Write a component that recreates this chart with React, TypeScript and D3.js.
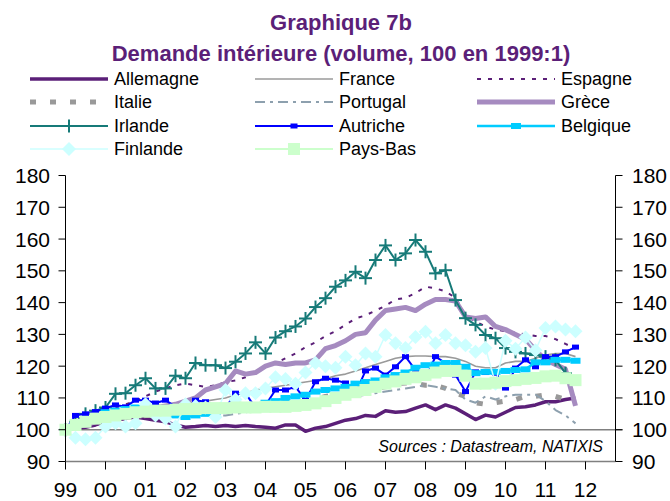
import React from "react";
import * as d3 from "d3";

const W = 670;
const H = 501;

const yearTicks = ["99", "00", "01", "02", "03", "04", "05", "06", "07", "08", "09", "10", "11", "12"];
const yTicks = [90, 100, 110, 120, 130, 140, 150, 160, 170, 180];

const allemagne = [100, 100.5, 100.8, 101.5, 102.5, 103, 103.5, 104, 103.5, 103, 102.5, 101.5, 100.8, 101, 101.3, 101, 101.3, 101, 101.3, 101, 100.8, 100.5, 101.5, 101.5, 99.5, 100.5, 101, 102, 103, 103.5, 104.5, 104.2, 106, 105.5, 105.7, 106.8, 107.8, 106.3, 107.8, 106.8, 105, 103.2, 104.6, 104, 105.5, 107, 107.2, 107.8, 108.8, 108.8, 109.5, 110];
const france = [100, 101, 102, 103, 104, 105, 106, 106.5, 107, 107.5, 107.5, 108, 108.5, 108.5, 109, 109.5, 110, 111, 111.5, 112.5, 113, 113.5, 114, 114.5, 115, 115.5, 116, 117, 117.5, 118.5, 119.5, 120.5, 121.5, 122.5, 123, 123.2, 123.2, 123, 123, 122.5, 121.5, 120, 119.5, 119.5, 121, 121.5, 121.5, 122.5, 123.5, 124, 124, 123];
const espagne = [100, 101.5, 102.5, 104.5, 106, 107, 108, 109, 110.5, 112, 113, 114, 114.5, 114, 113.5, 114, 115, 115.5, 116.5, 118, 120, 121, 122.5, 124, 126, 127.5, 129.5, 131, 133, 135, 136, 137.5, 139, 141, 141.5, 143, 145, 144.5, 143.5, 141.5, 136, 134, 132.5, 131.5, 131, 130.5, 130, 129.5, 129.5, 128.5, 127, 125.5];
const italie = [100, 101, 102, 102.5, 103, 103.5, 104, 104, 104.5, 104.5, 104.5, 104.8, 105, 105.5, 105.5, 106, 106.5, 107, 107, 107.5, 108, 108.5, 108.5, 109, 109, 109.5, 110.5, 111, 111.5, 112, 112.5, 113, 113.5, 114.5, 114.7, 114.5, 114, 114, 113, 111.5, 110.5, 108.5, 108, 108.5, 109, 109.5, 110.5, 110.5, 111, 110.5, 109.5, 108.5];
const portugal = [100, 101.5, 102.5, 103.5, 104.5, 105, 105.5, 106, 106, 106, 105.5, 105.5, 105.5, 105.5, 105, 104.5, 104.5, 105, 105.5, 106, 106.5, 107, 107.5, 108, 108.5, 109, 109.5, 109.5, 110, 110.5, 111, 111.5, 112, 112.5, 113, 113.5, 114, 113.5, 113, 112.5, 109.5, 108.5, 110.5, 109.5, 110.5, 111, 111, 111, 109, 106.2, 104.5, 102];
const grece = [100, 101, 101.5, 102.5, 103.5, 104, 104.5, 105.5, 106, 107, 107.5, 108, 109, 110, 112.5, 113.5, 114.5, 118.5, 117.5, 118, 120, 121, 120.5, 121, 121, 122, 125.5, 126.5, 128, 130, 130.5, 134.5, 137.5, 138, 138.5, 137.5, 139.5, 141, 141, 140.5, 135.5, 135, 135.5, 132.5, 131.5, 130, 128.5, 125, 122, 120.5, 119, 107.5];
const irlande = [100, 102.5, 105, 106, 107, 111.3, 111.5, 114, 116.2, 113, 113, 117, 116.2, 121, 120.3, 120.3, 119.4, 121.4, 124, 127.5, 124, 129, 131, 132.5, 135, 138.6, 141.4, 145, 147, 149.7, 147.7, 153.4, 158, 153.4, 155.5, 159.7, 156, 149.2, 150.2, 140.8, 135.1, 133, 129.8, 128.8, 125.7, 124.5, 124, 123.5, 123, 122, 117.8];
const autriche = [100, 104.5, 105, 105.7, 106.8, 107.8, 107.2, 109.3, 109.3, 108.4, 109.3, 107.2, 104.1, 109.3, 108.8, 107.2, 106.8, 111.5, 111.5, 106.8, 107.8, 112.5, 112.5, 113.5, 109.3, 115.1, 116.2, 115.6, 114.7, 111.5, 118.5, 119.4, 117.2, 119.8, 123, 118.8, 116.2, 123, 121, 117.2, 112, 118.2, 118, 117.8, 113.1, 119.4, 122, 119.8, 123, 123, 124.5, 126];
const belgique = [100, 101.5, 103, 104, 105.5, 106, 106.5, 107, 107, 106.5, 105.5, 104.5, 104, 104.5, 105, 105.5, 106, 106.5, 107, 107.5, 108.5, 109, 110, 110.5, 111, 112, 112.5, 113, 113.5, 114.5, 115, 115.5, 116.5, 117.2, 118, 119.5, 120.3, 120.5, 121, 121, 119.8, 117.8, 118.2, 118.2, 118.5, 118.8, 119, 121.2, 121.2, 122, 122, 121.7];
const finlande = [100, 97.5, 97, 97.5, 101, 102, 101, 102, 108, 104.5, 103.5, 101, 108, 107.5, 107, 104, 112.5, 109.5, 111.5, 111.5, 113, 116.5, 116, 114.5, 118, 121, 120, 119.5, 123, 120.3, 124, 123, 129.8, 127.2, 125.7, 129.2, 130.8, 127.2, 129.8, 127.2, 126.6, 124.5, 125.7, 114.5, 128, 125.5, 129, 125, 132, 132.5, 131.5, 131];
const paysBas = [100, 101.5, 102.5, 103.5, 104, 104.5, 105, 105.5, 105.7, 106, 106, 106.3, 106.5, 106.5, 106.8, 106.8, 106.8, 107, 107, 107, 107.2, 107.2, 107.2, 107.5, 107.8, 108.3, 109, 110, 111, 111.8, 112.5, 113.5, 114.5, 115.2, 116, 116.5, 117.2, 118, 118.5, 118.5, 117, 114.5, 114.5, 114.8, 115.3, 115.6, 116, 116.3, 116.8, 117, 116.2, 115.6];

type Marker = "none" | "plus" | "rect" | "diamond" | "square";
interface Series {
  name: string;
  values: number[];
  color: string;
  width: number;
  dash?: string;
  marker: Marker;
  mw?: number;
  mh?: number;
}

const series: Series[] = [
  { name: "Allemagne", values: allemagne, color: "#5B1F78", width: 3.5, marker: "none" },
  { name: "France", values: france, color: "#9A9A9A", width: 1.6, marker: "none" },
  { name: "Espagne", values: espagne, color: "#5B1F78", width: 2, dash: "4,7", marker: "none" },
  { name: "Italie", values: italie, color: "#999999", width: 5, dash: "6,14", marker: "none" },
  { name: "Portugal", values: portugal, color: "#8DA0AE", width: 2, dash: "10,5,3,5", marker: "none" },
  { name: "Grèce", values: grece, color: "#A68BC0", width: 5, marker: "none" },
  { name: "Irlande", values: irlande, color: "#167A78", width: 2, marker: "plus", mw: 13, mh: 13 },
  { name: "Autriche", values: autriche, color: "#0000FF", width: 2, marker: "rect", mw: 7, mh: 5 },
  { name: "Belgique", values: belgique, color: "#00CCFF", width: 2.5, marker: "rect", mw: 10, mh: 6 },
  { name: "Finlande", values: finlande, color: "#CCFFFF", width: 1.5, marker: "diamond", mw: 14, mh: 14 },
  { name: "Pays-Bas", values: paysBas, color: "#CCFFCC", width: 2, marker: "square", mw: 12, mh: 12 },
];

function MarkerShape({ s, cx, cy }: { s: Series; cx: number; cy: number }) {
  const mw = s.mw || 0;
  const mh = s.mh || 0;
  if (s.marker === "plus") {
    return (
      <g stroke={s.color} strokeWidth={2}>
        <line x1={cx - mw / 2} x2={cx + mw / 2} y1={cy} y2={cy} />
        <line x1={cx} x2={cx} y1={cy - mh / 2} y2={cy + mh / 2} />
      </g>
    );
  }
  if (s.marker === "rect" || s.marker === "square") {
    return <rect x={cx - mw / 2} y={cy - mh / 2} width={mw} height={mh} fill={s.color} />;
  }
  if (s.marker === "diamond") {
    return (
      <path
        d={`M${cx},${cy - mh / 2}L${cx + mw / 2},${cy}L${cx},${cy + mh / 2}L${cx - mw / 2},${cy}Z`}
        fill={s.color}
      />
    );
  }
  return null;
}

export default function App() {
  const left = 65.5;
  const right = 615.5;
  const x = d3.scaleLinear().domain([0, 13.75]).range([left, right]);
  const y = d3.scaleLinear().domain([90, 180]).range([461.5, 175.5]);
  const tQ = (i: number) => x(i / 4);

  const line = d3
    .line<number>()
    .x((_, i) => tQ(i))
    .y((d) => y(d));

  const font = "'Liberation Sans', Arial, sans-serif";
  const purple = "#5B1F78";

  const legCols = [30, 255, 477];
  const legRows = [79, 102, 126, 149];
  const legLen = 78;

  return (
    <svg width={W} height={H} style={{ position: "absolute", left: 0, top: 0, background: "#fff" }} fontFamily={font}>
      <text x={341} y={22} textAnchor="middle" dominantBaseline="central" fontSize={22} fontWeight="bold" fill={purple}>
        Graphique 7b
      </text>
      <text x={341} y={53} textAnchor="middle" dominantBaseline="central" fontSize={22} fontWeight="bold" fill={purple}>
        Demande intérieure (volume, 100 en 1999:1)
      </text>

      {series.map((s, k) => {
        const col = k % 3;
        const row = Math.floor(k / 3);
        const lx = legCols[col];
        const ly = legRows[row];
        return (
          <g key={s.name}>
            <line x1={lx} x2={lx + legLen} y1={ly} y2={ly} stroke={s.color} strokeWidth={s.width} strokeDasharray={s.dash} />
            <MarkerShape s={s} cx={lx + legLen / 2} cy={ly} />
            <text x={lx + legLen + 6} y={ly} dominantBaseline="central" fontSize={18} fill="#000">
              {s.name}
            </text>
          </g>
        );
      })}

      <line x1={left} x2={right + 7} y1={y(100)} y2={y(100)} stroke="#808080" strokeWidth={1.5} />
      <line x1={left} x2={right} y1={y(90)} y2={y(90)} stroke="#808080" strokeWidth={1.5} />

      {series.map((s) => (
        <g key={s.name}>
          <path d={line(s.values) || ""} fill="none" stroke={s.color} strokeWidth={s.width} strokeDasharray={s.dash} strokeLinejoin="round" />
          {s.marker !== "none" && s.values.map((v, i) => <MarkerShape key={i} s={s} cx={tQ(i)} cy={y(v)} />)}
        </g>
      ))}

      <line x1={left} x2={left} y1={y(180)} y2={y(90)} stroke="#000" strokeWidth={1} />
      <line x1={right} x2={right} y1={y(180)} y2={y(90)} stroke="#000" strokeWidth={1} />
      {yTicks.map((v) => (
        <g key={v}>
          <line x1={left - 7} x2={left} y1={y(v)} y2={y(v)} stroke="#000" />
          <line x1={right} x2={right + 7} y1={y(v)} y2={y(v)} stroke="#000" />
          <text x={50} y={y(v)} textAnchor="end" dominantBaseline="central" fontSize={21} fill="#000">
            {v}
          </text>
          <text x={632} y={y(v)} textAnchor="start" dominantBaseline="central" fontSize={21} fill="#000">
            {v}
          </text>
        </g>
      ))}
      {yearTicks.map((lab, k) => (
        <g key={lab}>
          <line x1={x(k)} x2={x(k)} y1={y(90)} y2={y(90) + 8} stroke="#000" />
          <text x={x(k)} y={489} textAnchor="middle" dominantBaseline="central" fontSize={21} fill="#000">
            {lab}
          </text>
        </g>
      ))}

      <text x={603} y={446} textAnchor="end" dominantBaseline="central" fontSize={16} fontStyle="italic" fill="#000">
        Sources : Datastream, NATIXIS
      </text>
    </svg>
  );
}
